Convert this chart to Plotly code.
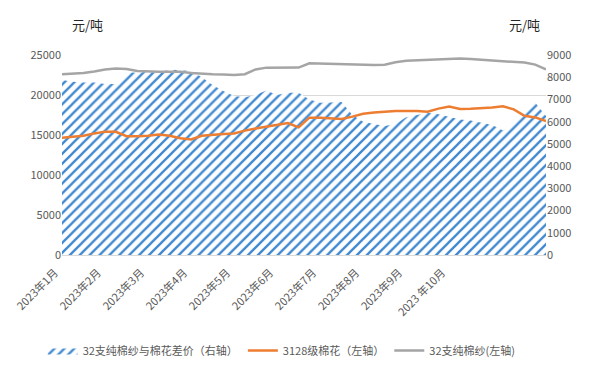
import plotly.graph_objects as go

# sample positions (4 samples per month label)
periods = list(range(46))

tick_positions = [0, 4, 8, 12, 16, 20, 24, 28, 32, 36]
tick_labels = ["2023年1月", "2023年2月", "2023年3月", "2023年4月", "2023年5月",
               "2023年6月", "2023年7月", "2023年8月", "2023年9月", "2023 年10月"]

# 32支纯棉纱与棉花差价（右轴）
spread = [7875, 7800, 7760, 7760, 7700, 7700, 8220, 8200, 8250, 8200,
          8350, 8300, 8280, 8000, 7650, 7380, 7150, 7100, 7200, 7400,
          7200, 7300, 7300, 7000, 6850, 6860, 6890, 6300, 6000, 5900,
          5800, 5900, 6200, 6300, 6400, 6330, 6200, 6100, 6050, 5950,
          5850, 5600, 5900, 6500, 6850, 6250]

# 3128级棉花（左轴）
cotton = [14670, 14780, 14900, 15200, 15420, 15400, 14850, 14850, 14900, 15050,
          14900, 14600, 14450, 14900, 15060, 15130, 15200, 15550, 15800, 16050,
          16250, 16500, 15950, 17170, 17170, 17050, 17000, 17300, 17650, 17800,
          17900, 18000, 18000, 18000, 17900, 18300, 18550, 18250, 18280, 18350,
          18450, 18600, 18200, 17400, 17200, 16750]

# 32支纯棉纱(左轴)
yarn = [22600, 22680, 22760, 22950, 23200, 23300, 23250, 23000, 22930, 22900,
        22900, 22900, 22750, 22650, 22580, 22550, 22500, 22600, 23200, 23420,
        23420, 23420, 23430, 23960, 23920, 23880, 23840, 23760, 23710, 23740,
        23780, 24100, 24270, 24320, 24370, 24400, 24500, 24550, 24500, 24420,
        24340, 24250, 24150, 24050, 23800, 23200]

FONT = "Noto Sans CJK SC"
GRAY_TXT = "#595959"

fig = go.Figure()

# area on the base y axis (right side), lines on the overlaying left axis
fig.add_trace(go.Scatter(
    x=periods, y=spread, yaxis="y", name="32支纯棉纱与棉花差价（右轴）",
    mode="lines", line=dict(width=0, color="#5B9BD5"),
    fill="tozeroy", fillcolor="white",
    fillpattern=dict(shape="/", fgcolor="#3F88CF", bgcolor="white",
                     fgopacity=1, size=7, solidity=0.33),
))
fig.add_trace(go.Scatter(
    x=periods, y=cotton, yaxis="y2", name="3128级棉花（左轴）", mode="lines",
    line=dict(color="#ED7D31", width=2.5),
))
fig.add_trace(go.Scatter(
    x=periods, y=yarn, yaxis="y2", name="32支纯棉纱(左轴)", mode="lines",
    line=dict(color="#A5A5A5", width=2.5),
))

fig.update_layout(
    width=600, height=375,
    margin=dict(l=62, r=54, t=55, b=119),
    paper_bgcolor="white", plot_bgcolor="white",
    font=dict(family=FONT, size=11, color=GRAY_TXT),
    showlegend=True,
    legend=dict(orientation="h", x=-0.04, xanchor="left", y=-0.47, yanchor="middle",
                font=dict(size=11, color=GRAY_TXT), traceorder="normal",
                itemwidth=30),
    xaxis=dict(range=[0, 45], tickmode="array", tickvals=tick_positions,
               ticktext=tick_labels, tickangle=-45, showgrid=False,
               showline=True, linecolor="#D9D9D9", linewidth=1, ticks="",
               ticklabelstandoff=6, ticklabelshift=-7,
               zeroline=False, tickfont=dict(size=11, color=GRAY_TXT)),
    yaxis=dict(range=[0, 9000], dtick=1000, side="right",
               showgrid=False, zeroline=False, ticks="", tickformat="d",
               tickfont=dict(size=11, color=GRAY_TXT)),
    yaxis2=dict(range=[0, 25000], dtick=5000, overlaying="y", side="left",
                showgrid=True, gridcolor="#D9D9D9", layer="below traces",
                zeroline=False, ticks="", tickformat="d",
                tickfont=dict(size=11, color=GRAY_TXT)),
    annotations=[
        dict(text="元/吨", xref="paper", yref="paper", x=0.017, y=1.153,
             xanchor="left", yanchor="middle", showarrow=False,
             font=dict(size=13, color="#262626", family=FONT)),
        dict(text="元/吨", xref="paper", yref="paper", x=0.92, y=1.153,
             xanchor="left", yanchor="middle", showarrow=False,
             font=dict(size=13, color="#262626", family=FONT)),
    ],
)

fig.write_html("out.html")
